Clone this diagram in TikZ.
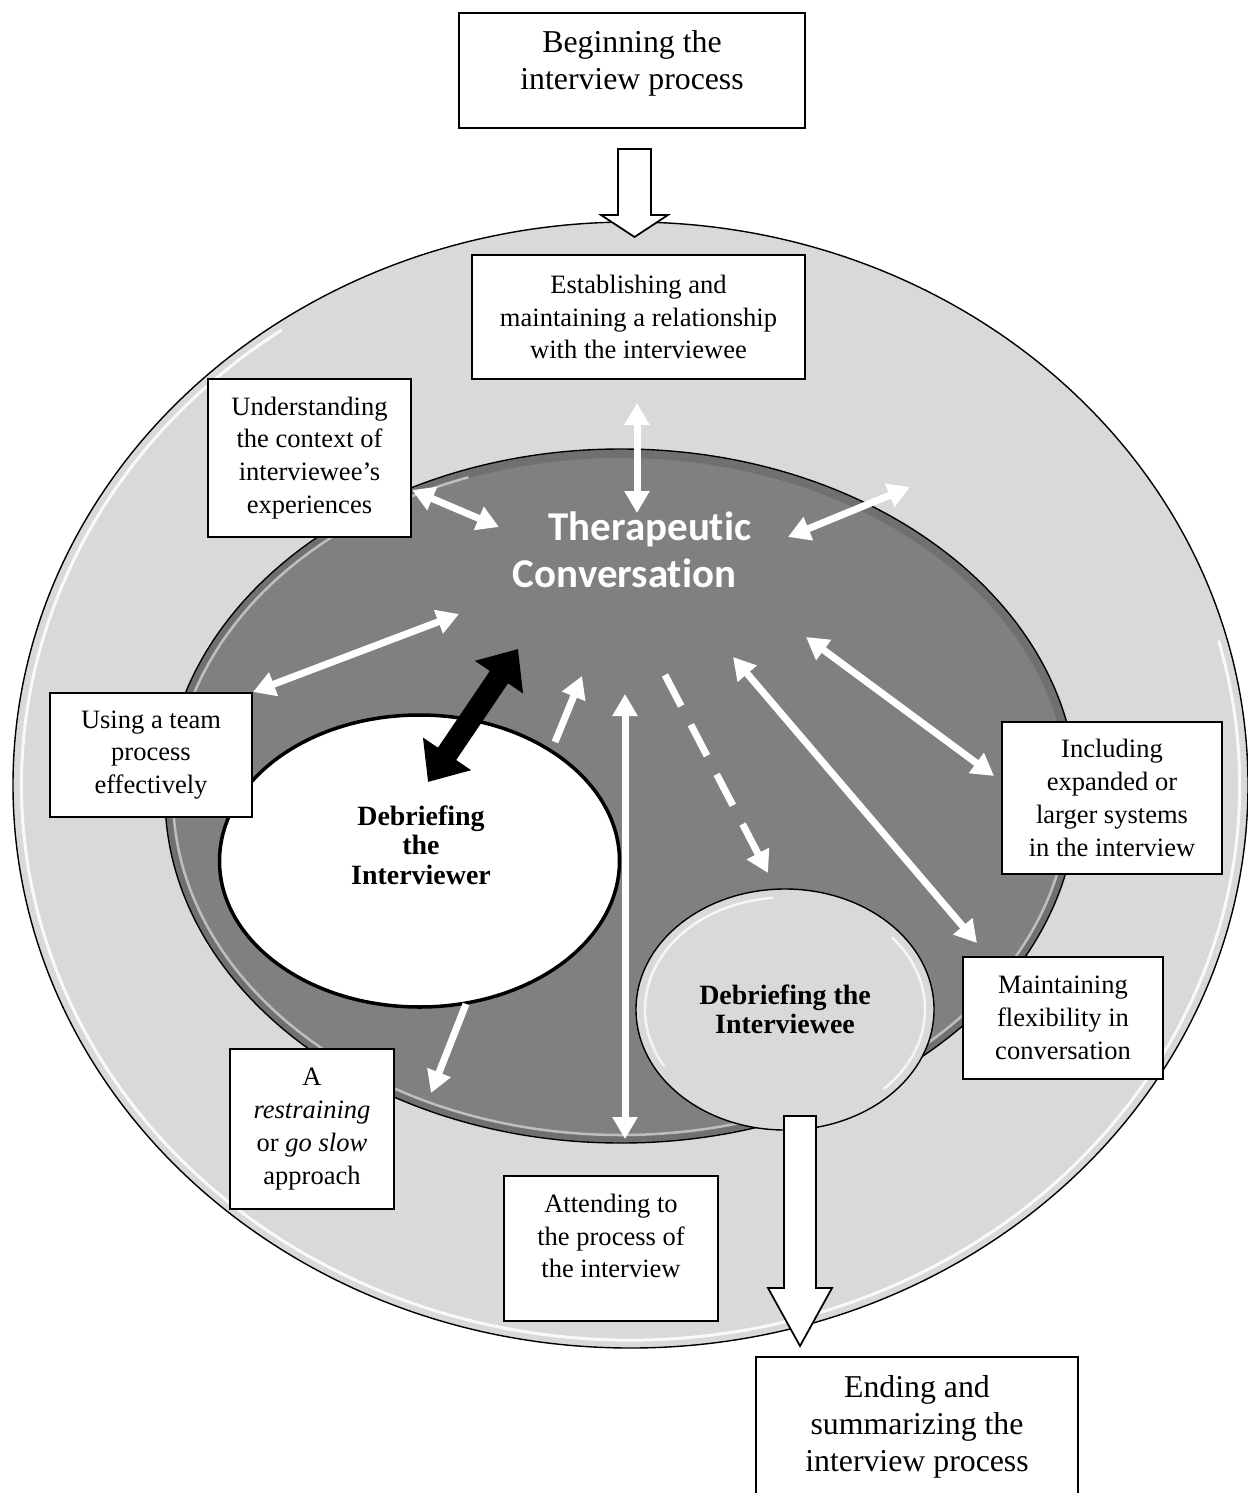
\documentclass[tikz,border=0pt]{standalone}
\usepackage{fontspec}
\setmainfont{Liberation Serif}
\newfontfamily\calib{Carlito}[Ligatures=NoCommon]
\usetikzlibrary{arrows.meta,shapes.geometric}
\newlength\pxl \setlength\pxl{0.02cm}
\definecolor{lightg}{RGB}{217,217,217}
\definecolor{darkg}{RGB}{128,128,128}
\newcommand\fbig{\fontsize{18.1pt}{21pt}\selectfont}
\newcommand\fmed{\fontsize{15.1pt}{18.7pt}\selectfont}
\newcommand\fbld{\fontsize{15.9pt}{16.7pt}\selectfont\bfseries}
\newcommand\ftc{\calib\bfseries\fontsize{23.3pt}{26.6pt}\selectfont}
\begin{document}
\begin{tikzpicture}[x=0.02cm,y=-0.02cm,
  box/.style={draw=black, fill=white, line width=1pt, inner sep=0pt, outer sep=0pt, align=center, font=\fmed},
  oval/.style={ellipse, draw=black, inner sep=0pt, outer sep=0pt},
  hilite/.style={draw=white, line width=3\pxl, line cap=round},
  warr/.style={draw=white, line width=7\pxl, -{Triangle[length=0.44cm,width=0.48cm]}},
  warrb/.style={draw=white, line width=7\pxl, {Triangle[length=0.44cm,width=0.48cm]}-{Triangle[length=0.44cm,width=0.48cm]}},
  warrd/.style={warr, dash pattern=on 0.7cm off 0.42cm},
  barr/.style={draw=black, line width=22\pxl, {Triangle[length=0.68cm,width=1.12cm]}-{Triangle[length=0.68cm,width=1.12cm]}},
  blockarr/.style={draw=black, fill=white, line width=1pt, line join=miter},
  tctext/.style={font=\ftc, text=white, anchor=base, inner sep=0pt}
]
\useasboundingbox (0,0) rectangle (1247,1493);
\fill[white] (0,0) rectangle (1247,1493);

% outer ring
\node[oval, line width=0.8pt, fill=lightg, minimum width=1235\pxl, minimum height=1126\pxl] (outer) at (630.5,785) {};
\draw[hilite, opacity=0.85] (630.5,785) ++(-15:609 and 555) arc[start angle=-15, end angle=235, x radius=609, y radius=555];

% top block arrow
\draw[blockarr] (618,149) -- (651,149) -- (651,215) -- (668,215) -- (634.5,237) -- (601,215) -- (618,215) -- cycle;

% inner dark ellipse
\node[oval, line width=0.8pt, fill=darkg, minimum width=912\pxl, minimum height=694\pxl] (inner) at (621,796) {};
\draw[draw=black, opacity=0.12, line width=8\pxl] (621,796) ellipse [x radius=451, y radius=342];
\draw[hilite, opacity=0.55, line width=2.5\pxl] (621,796) ++(0:448 and 339) arc[start angle=0, end angle=250, x radius=448, y radius=339];

% debriefing ellipses
\node[oval, line width=2pt, fill=white, minimum width=400\pxl, minimum height=292\pxl] (dint) at (419.5,861) {};
\node[font=\fbld, align=center] (dinttxt) at (421,845) {Debriefing\\the\\Interviewer};
\node[oval, line width=0.8pt, fill=lightg, minimum width=298\pxl, minimum height=241\pxl, font=\fbld, align=center] (dee) at (785,1009.5) {Debriefing the\\Interviewee};
\draw[hilite, opacity=0.75, line width=2.5\pxl] (785,1009.5) ++(150:140 and 112) arc[start angle=150, end angle=265, x radius=140, y radius=112];
\draw[hilite, opacity=0.75, line width=2.5\pxl] (785,1009.5) ++(-40:140 and 112) arc[start angle=-40, end angle=45, x radius=140, y radius=112];

% central text
\node[tctext] (tc1) at (650,540) {Therapeutic};
\node[tctext] (tc2) at (624.5,587) {Conversation};

% boxes
\node[box, minimum width=346\pxl, minimum height=115\pxl] (beg) at (632,70.5) {};
\node[font=\fbig, align=center] (begtxt) at (632,63.5) {Beginning the\\interview process};
\node[box, minimum width=333\pxl, minimum height=124\pxl] (est) at (638.5,317) {Establishing and\\maintaining a relationship\\with the interviewee};
\node[box, minimum width=203\pxl, minimum height=158\pxl] (und) at (309.5,458) {Understanding\\the context of\\interviewee’s\\experiences};
\node[box, minimum width=202\pxl, minimum height=124\pxl] (team) at (151,755) {Using a team\\process\\effectively};
\node[box, minimum width=220\pxl, minimum height=152\pxl] (incl) at (1112,798) {Including\\expanded or\\larger systems\\in the interview};
\node[box, minimum width=200\pxl, minimum height=122\pxl] (maint) at (1063,1018) {Maintaining\\flexibility in\\conversation};
\node[box, minimum width=164\pxl, minimum height=160\pxl] (restr) at (312,1129) {A\\\textit{restraining}\\or \textit{go slow}\\approach};
\node[box, minimum width=214\pxl, minimum height=145\pxl] (att) at (611,1248.5) {};
\node[font=\fmed, align=center] (atttxt) at (611,1236) {Attending to\\the process of\\the interview};
\node[box, minimum width=322\pxl, minimum height=153\pxl] (endb) at (917,1433.5) {};
\node[font=\fbig, align=center] (endtxt) at (917,1427) {Ending and\\summarizing the\\interview process};

% arrow end points
\coordinate (p1a) at (637,403);  \coordinate (p1b) at (637,513);
\coordinate (p2a) at (412,490);  \coordinate (p2b) at (499,527);
\coordinate (p3a) at (788,537);  \coordinate (p3b) at (910,487);
\coordinate (p4a) at (253,692);  \coordinate (p4b) at (459,614);
\coordinate (p5a) at (428,782);  \coordinate (p5b) at (518,649);
\coordinate (p6a) at (555,742);  \coordinate (p6b) at (582,676);
\coordinate (p7a) at (625,694);  \coordinate (p7b) at (625,1139);
\coordinate (p8a) at (665,675);  \coordinate (p8b) at (768,873);
\coordinate (p9a) at (733,657);  \coordinate (p9b) at (977,943);
\coordinate (p10a) at (806,637); \coordinate (p10b) at (994,776);
\coordinate (p11a) at (466,1004); \coordinate (p11b) at (431,1093);

\draw[warrb] (p1a) -- (p1b);
\draw[warrb] (p2a) -- (p2b);
\draw[warrb] (p3a) -- (p3b);
\draw[warrb] (p4a) -- (p4b);
\draw[barr] (p5a) -- (p5b);
\draw[warr] (p6a) -- (p6b);
\draw[warrb] (p7a) -- (p7b);
\draw[warrd] (p8a) -- (p8b);
\draw[warrb] (p9a) -- (p9b);
\draw[warrb] (p10a) -- (p10b);
\draw[warr] (p11a) -- (p11b);

% bottom block arrow
\draw[blockarr] (784,1116) -- (816,1116) -- (816,1288) -- (832,1288) -- (800,1346) -- (768,1288) -- (784,1288) -- cycle;
\end{tikzpicture}
\end{document}
